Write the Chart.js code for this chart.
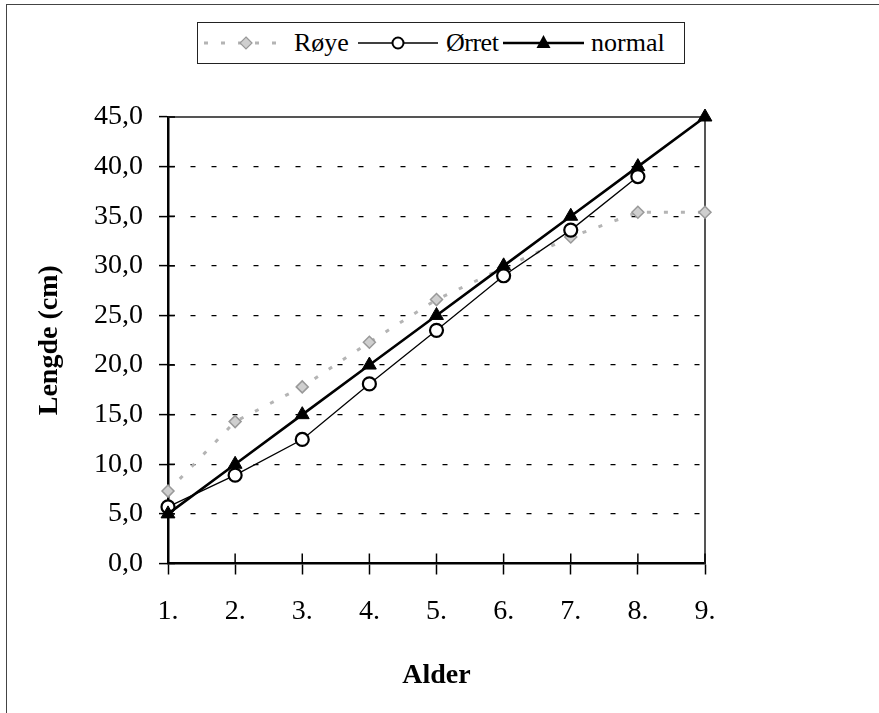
<!DOCTYPE html>
<html>
<head>
<meta charset="utf-8">
<script src="https://cdn.jsdelivr.net/npm/chart.js@4.4.1/dist/chart.umd.min.js"></script>
<style>
  html, body { margin: 0; padding: 0; background: #fff; }
  #wrap { position: relative; width: 879px; height: 713px; overflow: hidden; }
  #frame { position: absolute; left: 6px; top: 4px; width: 880px; height: 720px;
           border-top: 1.5px solid #444; border-left: 1.5px solid #444; box-sizing: border-box; }
  canvas { position: absolute; left: 0; top: 0; }
  #legend { position: absolute; left: 197px; top: 22px; width: 488px; height: 42px;
            border: 1.5px solid #222; box-sizing: border-box; background: #fff;
            font-family: 'Liberation Serif', 'DejaVu Serif', serif; font-size: 26px; color: #000; }
  #legend .item { position: absolute; top: 0; height: 40px; line-height: 40px; white-space: nowrap;
                  font-family: 'Liberation Serif', 'DejaVu Serif', serif; }
  #legend svg { position: absolute; top: 0; }
</style>
</head>
<body>
<div id="wrap">
  <div id="frame"></div>
  <canvas id="c" width="879" height="713"></canvas>
  <div id="legend"></div>
</div>
<script>
const categories = ['1.', '2.', '3.', '4.', '5.', '6.', '7.', '8.', '9.'];
const seriesNames = ['Røye', 'Ørret', 'normal'];
const royeValues  = [7.3, 14.3, 17.8, 22.3, 26.6, 29.8, 32.9, 35.4, 35.4];
const orretValues = [5.7, 8.9, 12.5, 18.1, 23.5, 29.0, 33.6, 39.0, null];
const normalValues = [5, 10, 15, 20, 25, 30, 35, 40, 45];
const yTicks = { min: 0, max: 45, step: 5 };
const xTitle = 'Alder';
const yTitle = 'Lengde (cm)';

const FONT = '"Liberation Serif", "Times New Roman", serif';

const frameAndTicks = {
  id: 'frameAndTicks',
  beforeDatasetsDraw(chart) {
    const ctx = chart.ctx;
    const a = chart.chartArea;
    ctx.save();
    ctx.strokeStyle = '#555';
    ctx.lineWidth = 2;
    ctx.setLineDash([]);
    ctx.beginPath();
    ctx.moveTo(a.left, a.top);
    ctx.lineTo(a.right, a.top);
    ctx.lineTo(a.right, a.bottom);
    ctx.stroke();
    ctx.strokeStyle = '#000';
    ctx.lineWidth = 1.5;
    const xs = chart.scales.x;
    xs.ticks.forEach((t, i) => {
      const px = xs.getPixelForTick(i);
      ctx.beginPath();
      ctx.moveTo(px, a.bottom);
      ctx.lineTo(px, a.bottom - 10);
      ctx.stroke();
    });
    const ys = chart.scales.y;
    ys.ticks.forEach((t, i) => {
      const py = ys.getPixelForTick(i);
      ctx.beginPath();
      ctx.moveTo(a.left, py);
      ctx.lineTo(a.left + 7, py);
      ctx.stroke();
    });
    ctx.restore();
  }
};

const chart = new Chart(document.getElementById('c'), {
  type: 'line',
  data: {
    labels: categories,
    datasets: [
      {
        label: seriesNames[0],
        data: royeValues,
        borderColor: '#b4b4b4',
        borderWidth: 3,
        borderDash: [4, 13],
        pointStyle: 'rectRot',
        pointRadius: 6,
        pointBackgroundColor: '#cfcfcf',
        pointBorderColor: '#999',
        pointBorderWidth: 1.5,
        tension: 0,
        clip: false,
        order: 3
      },
      {
        label: seriesNames[1],
        data: orretValues,
        borderColor: '#000',
        borderWidth: 1.3,
        pointStyle: 'circle',
        pointRadius: 6.5,
        pointBackgroundColor: '#fff',
        pointBorderColor: '#000',
        pointBorderWidth: 2.2,
        tension: 0,
        spanGaps: false,
        clip: false,
        order: 2
      },
      {
        label: seriesNames[2],
        data: normalValues,
        borderColor: '#000',
        borderWidth: 2.6,
        pointStyle: 'triangle',
        pointRadius: 8,
        pointBackgroundColor: '#000',
        pointBorderColor: '#000',
        pointBorderWidth: 1,
        tension: 0,
        clip: false,
        order: 1
      }
    ]
  },
  options: {
    responsive: false,
    animation: false,
    devicePixelRatio: 1,
    layout: { padding: { left: 0, top: 117, right: 174, bottom: 0 } },
    plugins: { legend: { display: false }, tooltip: { enabled: false } },
    scales: {
      x: {
        type: 'category',
        offset: false,
        afterFit(scale) { scale.height = 149.5; },
        grid: { display: true, drawOnChartArea: false, drawTicks: true, tickLength: 11,
                tickColor: '#000', tickWidth: 1.5 },
        border: { display: true, color: '#000', width: 2.5 },
        ticks: { color: '#000', padding: 20, maxRotation: 0, autoSkip: false,
                 font: { family: FONT, size: 28 } },
        title: { display: true, text: xTitle, color: '#000',
                 font: { family: FONT, size: 28, weight: 'bold' },
                 padding: { top: 0, bottom: 20 } }
      },
      y: {
        min: yTicks.min, max: yTicks.max,
        afterFit(scale) { scale.width = 168; },
        grid: { display: true, drawOnChartArea: true, drawTicks: true, tickLength: 9,
                color: (c) => (c.tick && (c.tick.value === 0 || c.tick.value === 45)) ? 'rgba(0,0,0,0)' : '#000',
                lineWidth: 1.2, tickColor: '#000', tickWidth: 1.5, tickBorderDash: [] },
        border: { display: true, color: '#000', width: 2.5, dash: [5, 16] },
        ticks: { stepSize: yTicks.step, color: '#000', padding: 16,
                 font: { family: FONT, size: 28 },
                 callback: (v) => Number(v).toFixed(1).replace('.', ',') },
        title: { display: true, text: yTitle, color: '#000',
                 font: { family: FONT, size: 28, weight: 'bold' },
                 padding: { top: 33, bottom: 0 } }
      }
    }
  },
  plugins: [frameAndTicks]
});

(function buildLegend() {
  const lg = document.getElementById('legend');
  const layout = [
    { lineX: 6, lineW: 86, textX: 96 },
    { lineX: 160, lineW: 80, textX: 248 },
    { lineX: 305, lineW: 81, textX: 393 }
  ];
  chart.data.datasets.forEach((ds, i) => {
    const L = layout[i];
    const cy = 20;
    const mx = i === 0 ? 42 : L.lineW / 2;
    let marker = '';
    if (ds.pointStyle === 'rectRot') {
      marker = `<polygon points="${mx},${cy-6} ${mx+6},${cy} ${mx},${cy+6} ${mx-6},${cy}" fill="${ds.pointBackgroundColor}" stroke="${ds.pointBorderColor}" stroke-width="1.2"/>`;
    } else if (ds.pointStyle === 'circle') {
      marker = `<circle cx="${mx}" cy="${cy}" r="5.5" fill="#fff" stroke="#000" stroke-width="2"/>`;
    } else {
      marker = `<polygon points="${mx},${cy-8} ${mx+7},${cy+5} ${mx-7},${cy+5}" fill="#000"/>`;
    }
    const dash = ds.borderDash ? `stroke-dasharray="${ds.borderDash.join(',')}"` : '';
    const lw = i === 0 ? 80 : L.lineW;
    const svg = `<svg width="${L.lineW}" height="40" style="left:${L.lineX}px">
      <line x1="0" y1="${cy}" x2="${lw}" y2="${cy}" stroke="${ds.borderColor}" stroke-width="${ds.borderWidth}" ${dash}/>
      ${marker}</svg>`;
    lg.insertAdjacentHTML('beforeend', svg);
    const ls = i === 1 ? 'letter-spacing:-0.5px;' : '';
    lg.insertAdjacentHTML('beforeend', `<div class="item" style="left:${L.textX}px;${ls}">${ds.label}</div>`);
  });
})();
</script>
</body>
</html>
